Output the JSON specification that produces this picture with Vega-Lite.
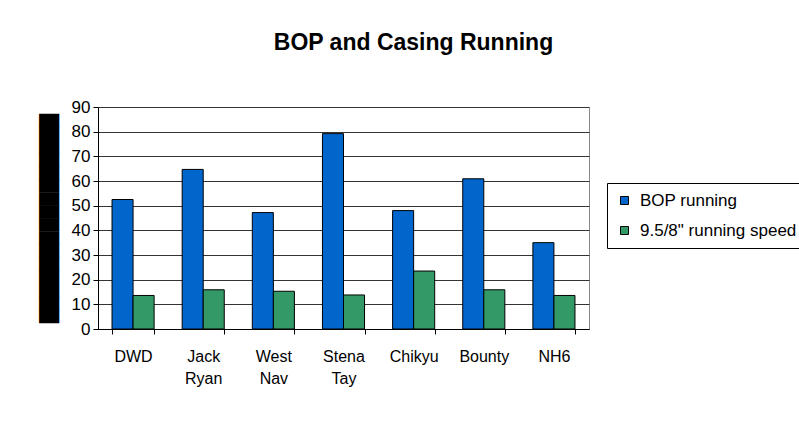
{
  "$schema": "https://vega.github.io/schema/vega-lite/v6.json",
  "width": 491,
  "height": 222,
  "autosize": {"type": "none"},
  "padding": {"left": 98, "top": 107, "right": 210, "bottom": 95},
  "background": "white",
  "title": {
    "text": "BOP and Casing Running",
    "font": "Liberation Sans",
    "fontSize": 23,
    "fontWeight": "bold",
    "color": "black",
    "offset": 43,
    "dx": 70
  },
  "data": {
    "values": [
      {"rig": "DWD", "series": "BOP running", "value": 52.5},
      {"rig": "DWD", "series": "9.5/8\" running speed", "value": 13.6},
      {"rig": "Jack Ryan", "series": "BOP running", "value": 64.7},
      {"rig": "Jack Ryan", "series": "9.5/8\" running speed", "value": 15.9},
      {"rig": "West Nav", "series": "BOP running", "value": 47.2},
      {"rig": "West Nav", "series": "9.5/8\" running speed", "value": 15.3},
      {"rig": "Stena Tay", "series": "BOP running", "value": 79.2},
      {"rig": "Stena Tay", "series": "9.5/8\" running speed", "value": 13.8},
      {"rig": "Chikyu", "series": "BOP running", "value": 48.0},
      {"rig": "Chikyu", "series": "9.5/8\" running speed", "value": 23.5},
      {"rig": "Bounty", "series": "BOP running", "value": 60.9},
      {"rig": "Bounty", "series": "9.5/8\" running speed", "value": 15.9},
      {"rig": "NH6", "series": "BOP running", "value": 35.0},
      {"rig": "NH6", "series": "9.5/8\" running speed", "value": 13.6}
    ]
  },
  "mark": {"type": "bar", "stroke": "black", "strokeWidth": 1},
  "encoding": {
    "x": {
      "field": "rig",
      "type": "nominal",
      "sort": ["DWD", "Jack Ryan", "West Nav", "Stena Tay", "Chikyu", "Bounty", "NH6"],
      "scale": {"paddingInner": 0.4, "paddingOuter": 0.2},
      "axis": {
        "title": null,
        "labelAngle": 0,
        "labelExpr": "split(datum.label, ' ')",
        "labelFont": "Liberation Sans",
        "labelFontSize": 16,
        "labelColor": "black",
        "labelLineHeight": 22,
        "labelPadding": 14,
        "labelBaseline": "top",
        "tickBand": "extent",
        "tickSize": 5,
        "tickColor": "black",
        "domainColor": "black",
        "grid": false
      }
    },
    "xOffset": {
      "field": "series",
      "type": "nominal",
      "sort": ["BOP running", "9.5/8\" running speed"]
    },
    "y": {
      "field": "value",
      "type": "quantitative",
      "scale": {"domain": [0, 90]},
      "axis": {
        "values": [0, 10, 20, 30, 40, 50, 60, 70, 80, 90],
        "title": "████████████████",
        "titleFont": "DejaVu Sans",
        "titleFontSize": 17,
        "titleFontWeight": "normal",
        "titleColor": "black",
        "titleAngle": -90,
        "titleX": -49,
        "titleY": 111,
        "titleAlign": "center",
        "titleBaseline": "middle",
        "labelFont": "Liberation Sans",
        "labelFontSize": 17,
        "labelColor": "black",
        "labelPadding": 3,
        "tickSize": 5,
        "tickColor": "black",
        "domainColor": "black",
        "gridColor": "#333333",
        "gridWidth": 1
      }
    },
    "color": {
      "field": "series",
      "type": "nominal",
      "sort": ["BOP running", "9.5/8\" running speed"],
      "scale": {"range": ["#0066CC", "#339966"]},
      "legend": {
        "title": null,
        "orient": "none",
        "legendX": 509,
        "legendY": 76,
        "strokeColor": "black",
        "fillColor": "white",
        "padding": 9,
        "symbolType": "square",
        "symbolSize": 64,
        "symbolStrokeColor": "black",
        "symbolStrokeWidth": 1,
        "symbolOpacity": 1,
        "labelFont": "Liberation Sans",
        "labelFontSize": 17,
        "labelColor": "black",
        "rowPadding": 12,
        "labelOffset": 7,
        "labelLimit": 400
      }
    }
  },
  "config": {
    "view": {"stroke": "#888888", "strokeWidth": 1}
  }
}
